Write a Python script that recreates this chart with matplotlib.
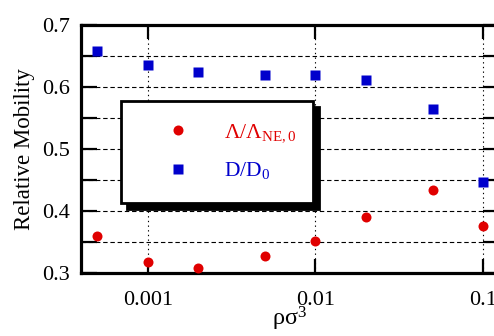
import matplotlib
matplotlib.use("Agg")
import matplotlib.pyplot as plt
from matplotlib.ticker import FixedLocator, NullLocator, FixedFormatter
from matplotlib.lines import Line2D

plt.rcParams['font.family'] = ['Liberation Serif', 'DejaVu Serif']
plt.rcParams['mathtext.fontset'] = 'custom'
plt.rcParams['mathtext.rm'] = 'Liberation Serif'
plt.rcParams['mathtext.it'] = 'Liberation Serif'
plt.rcParams['mathtext.default'] = 'regular'

density = [0.0005, 0.001, 0.002, 0.005, 0.01, 0.02, 0.05, 0.1]
diffusion = [0.658, 0.635, 0.624, 0.619, 0.619, 0.611, 0.565, 0.447]
conductivity = [0.360, 0.318, 0.308, 0.327, 0.352, 0.390, 0.434, 0.376]
xtick_vals = [0.001, 0.01, 0.1]
xtick_labels = ['0.001', '0.01', '0.1']
ytick_vals = [0.3, 0.4, 0.5, 0.6, 0.7]
ytick_labels = ['0.3', '0.4', '0.5', '0.6', '0.7']
yminor_vals = [0.35, 0.45, 0.55, 0.65]

red = '#e00000'
blue = '#0000cc'

fig = plt.figure(figsize=(4.94, 3.36), dpi=100)
ax = fig.add_axes([81/494, 1-273/336, (499-81)/494, (273-25)/336])

ax.set_xscale('log')
ax.set_xlim(4.0e-4, 0.1245)
ax.set_ylim(0.3, 0.7)

ax.xaxis.set_major_locator(FixedLocator(xtick_vals))
ax.xaxis.set_major_formatter(FixedFormatter(xtick_labels))
ax.xaxis.set_minor_locator(NullLocator())
ax.yaxis.set_major_locator(FixedLocator(ytick_vals))
ax.yaxis.set_major_formatter(FixedFormatter(ytick_labels))
ax.yaxis.set_minor_locator(FixedLocator(yminor_vals))

for v in ytick_vals[1:-1] + yminor_vals:
    ax.axhline(v, color='k', lw=0.8, ls=(0, (4, 2.5)), zorder=1)
for v in xtick_vals:
    ax.axvline(v, color='k', lw=0.8, ls=(0, (1.2, 3)), zorder=1)

ax.plot(density, conductivity, 'o', color=red, ms=7.2, mec='none', zorder=3, clip_on=False)
ax.plot(density, diffusion, 's', color=blue, ms=7.8, mec='none', zorder=3, clip_on=False)

for s in ax.spines.values():
    s.set_linewidth(2.3)

ax.tick_params(axis='both', which='both', direction='in', top=True, right=True,
               labelsize=16, width=1.6)
ax.tick_params(axis='y', which='both', length=11.5, pad=8)
ax.tick_params(axis='x', which='both', length=10, pad=13)

ax.set_ylabel('Relative Mobility', fontsize=16.5, labelpad=5)
ax.set_xlabel('ρσ$^{3}$', fontsize=17.5, labelpad=-4)

handles = [Line2D([], [], ls='none', marker='o', color=red, ms=7.2, mec='none'),
           Line2D([], [], ls='none', marker='s', color=blue, ms=7.8, mec='none')]
labels = ['Λ/Λ$_{NE,0}$', 'D/D$_0$']
leg = ax.legend(handles, labels, loc='upper left',
                bbox_to_anchor=(121/494, 1-104/336, (313-121)/494, 0.01),
                bbox_transform=fig.transFigure, mode='expand',
                fontsize=15.5, frameon=True, fancybox=False, edgecolor='k',
                borderpad=1.0, labelspacing=0.75, handlelength=3.3,
                handletextpad=0.5, borderaxespad=0.0,
                shadow={'ox': 4.5, 'oy': -4.5, 'facecolor': 'k', 'edgecolor': 'k', 'alpha': 1})
leg.get_frame().set_linewidth(2.0)
leg.set_zorder(5)
for t, c in zip(leg.get_texts(), [red, blue]):
    t.set_color(c)

fig.savefig('out.png', dpi=100)
